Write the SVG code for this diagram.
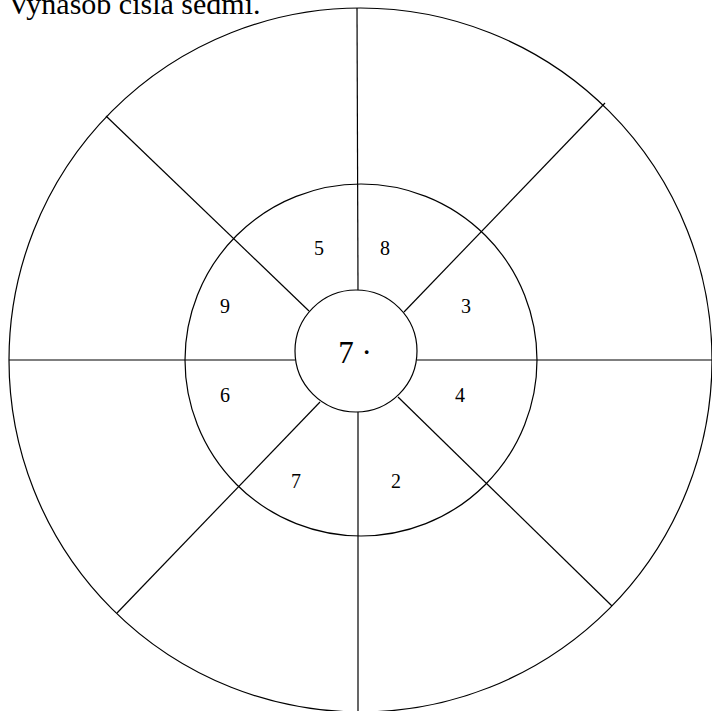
<svg xmlns="http://www.w3.org/2000/svg" width="712" height="711" viewBox="0 0 712 711">
<style>
.c{fill:none;stroke:#000;stroke-width:1.2}
.l{stroke:#000;stroke-width:1.2}
text{font-family:"Liberation Serif","Times New Roman",serif;fill:#000}
.n{font-size:20px;text-anchor:middle}
</style>
<rect width="712" height="711" fill="#fff"/>
<text x="8" y="14" font-size="30">Vynásob čísla sedmi.</text>
<g id="connectors">
<line class="l" x1="357" y1="8" x2="358" y2="290"/>
<line class="l" x1="358" y1="412" x2="358" y2="711"/>
<line class="l" x1="9" y1="360" x2="295" y2="360"/>
<line class="l" x1="417" y1="360" x2="712" y2="360"/>
<line class="l" x1="106" y1="116" x2="309" y2="311"/>
<line class="l" x1="605" y1="103" x2="404" y2="312"/>
<line class="l" x1="117" y1="613" x2="320" y2="402"/>
<line class="l" x1="612" y1="606" x2="398" y2="397"/>
</g>
<g id="outer"><ellipse class="c" cx="360.5" cy="360" rx="351.5" ry="352"/></g>
<g id="middle"><circle class="c" cx="361" cy="360" r="176"/></g>
<g id="inner"><circle class="c" cx="356" cy="351" r="61"/><text x="355" y="363" font-size="31" text-anchor="middle">7 ·</text></g>
<g id="numbers">
<text class="n" x="319" y="255">5</text>
<text class="n" x="385" y="255">8</text>
<text class="n" x="225" y="313">9</text>
<text class="n" x="466" y="313">3</text>
<text class="n" x="225" y="402">6</text>
<text class="n" x="460" y="402">4</text>
<text class="n" x="296" y="488">7</text>
<text class="n" x="396" y="488">2</text>
</g>
</svg>
